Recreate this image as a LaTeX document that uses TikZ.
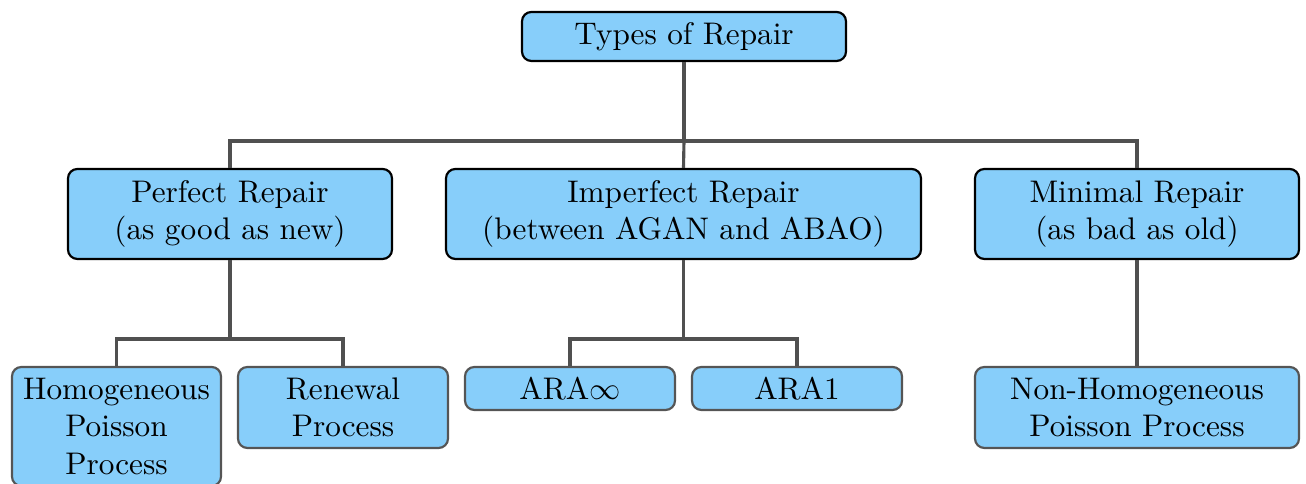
\documentclass[tikz,border=0pt]{standalone}
\usepackage{amssymb}
\newcommand\pxu{0.32pt}
\definecolor{boxfill}{RGB}{135,206,250}
\definecolor{linegray}{RGB}{80,80,80}
\definecolor{leafborder}{RGB}{85,85,85}
\tikzset{
  basebox/.style={draw, fill=boxfill, rounded corners=3pt, align=center, inner sep=0pt, line width=0.7pt},
  topbox/.style={basebox, draw=black},
  leafbox/.style={basebox, draw=leafborder},
  conn/.style={draw=linegray, line width=1pt},
}
\begin{document}
\begin{tikzpicture}[x=\pxu, y=-\pxu]
\useasboundingbox (0,0) rectangle (1306,484);
\node[topbox, minimum width=324*\pxu, minimum height=49*\pxu] (root) at (684,36.5) {Types of Repair};
\node[topbox, minimum width=324*\pxu, minimum height=90*\pxu] (perf) at (230,214) {Perfect Repair\\(as good as new)};
\node[topbox, minimum width=475*\pxu, minimum height=90*\pxu] (imp) at (683.5,214) {Imperfect Repair\\(between AGAN and ABAO)};
\node[topbox, minimum width=324*\pxu, minimum height=90*\pxu] (min) at (1137,214) {Minimal Repair\\(as bad as old)};
\node[leafbox, minimum width=209*\pxu, minimum height=119*\pxu] (hpp) at (116.5,426.5) {Homogeneous\\Poisson\\Process};
\node[leafbox, minimum width=210*\pxu, minimum height=81*\pxu] (ren) at (343,407.5) {Renewal\\Process};
\node[leafbox, minimum width=210*\pxu, minimum height=43*\pxu] (arainf) at (570,388.5) {ARA$\infty$};
\node[leafbox, minimum width=210*\pxu, minimum height=43*\pxu] (araone) at (797,388.5) {ARA1};
\node[leafbox, minimum width=324*\pxu, minimum height=81*\pxu] (nhpp) at (1137,407.5) {Non-Homogeneous\\Poisson Process};
\begin{scope}[on background layer/.style={}]
\draw[conn] (root.south) -- (root.south |- 0,141) coordinate (b1);
\draw[conn] (b1) -- (imp.north);
\draw[conn] (perf.north) |- (b1) -| (min.north);
\draw[conn] (perf.south) -- (perf.south |- 0,339) coordinate (b2);
\draw[conn] (hpp.north) |- (b2) -| (ren.north);
\draw[conn] (imp.south) -- (imp.south |- 0,339) coordinate (b3);
\draw[conn] (arainf.north) |- (b3) -| (araone.north);
\draw[conn] (min.south) -- (nhpp.north);
\end{scope}
\end{tikzpicture}
\end{document}
